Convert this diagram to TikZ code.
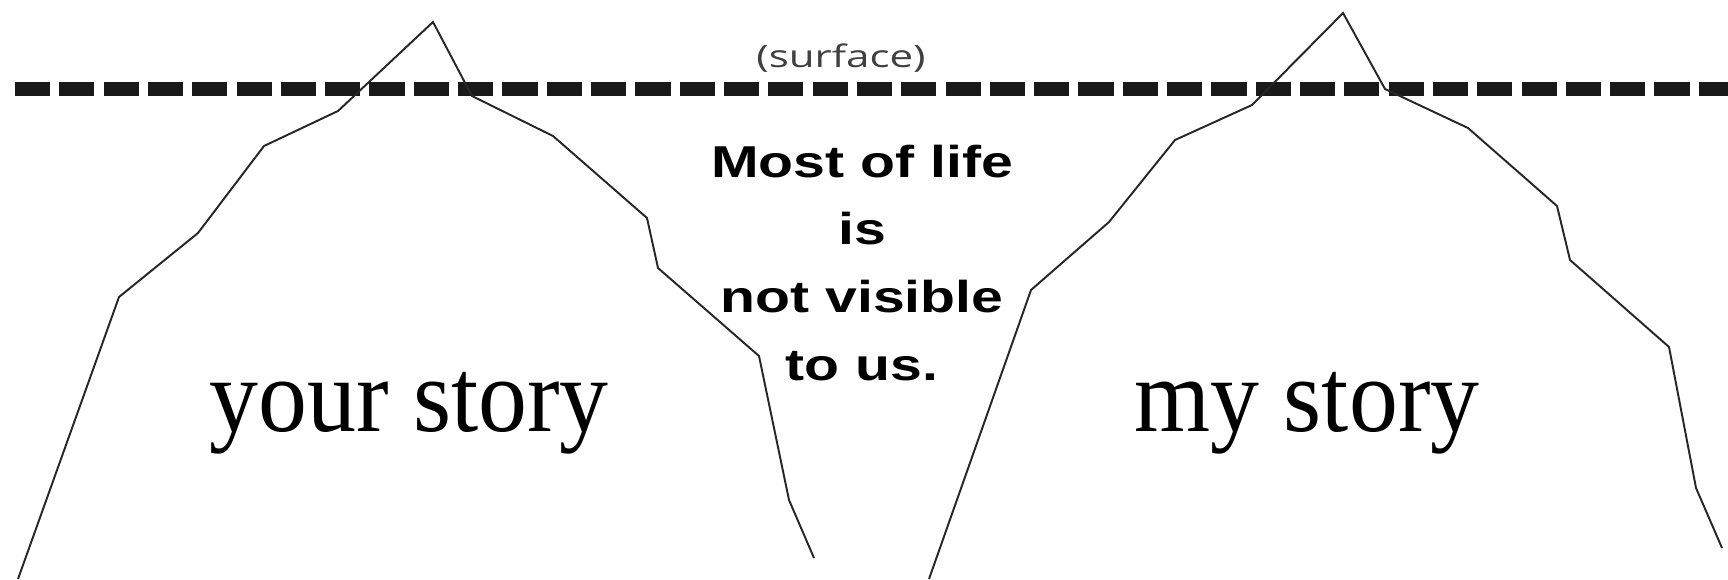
\documentclass[tikz,border=0pt]{standalone}
\usepackage{fontspec}
\setmainfont{Liberation Serif}
\newfontfamily\lifefont{Liberation Sans}
\newfontfamily\surfacefont{Open Sans}
\begin{document}
\begin{tikzpicture}[x=0.01cm, y=-0.01cm,
    berg/.style={draw=black!85, line width=0.55pt, line join=miter},
    story/.style={anchor=base, inner sep=0pt, xscale=0.93, transform shape, font=\fontsize{29.9}{34}\selectfont},
    lifeline/.style={anchor=base, inner sep=0pt, xscale=1.28, transform shape, font=\lifefont\bfseries\fontsize{12.7}{15}\selectfont}]
  \useasboundingbox (0,0) rectangle (1728,579);
  % waterline
  \draw[line width=3.7pt, black!90, dash pattern=on 10pt off 2.6pt] (15,89) -- (1728,89);
  \node[inner sep=0pt, xscale=1.36, transform shape, text=black!75, font=\surfacefont\fontsize{8.8}{10}\selectfont] (surface) at (841,58) {(surface)};
  % the two icebergs
  \draw[berg] (18,579) -- (119,297) -- (198,233) -- (264,146) -- (338,111) -- (433,22) -- (472,96)
    -- (553,136) -- (647,218) -- (658,268) -- (759,356) -- (789,500) -- (814,558);
  \draw[berg] (929,579) -- (1031,290) -- (1109,222) -- (1175,140) -- (1252,105) -- (1343,13) -- (1385,89)
    -- (1468,128) -- (1557,206) -- (1570,260) -- (1669,347) -- (1696,488) -- (1722,548);
  \node[story] (yours) at (409,431) {your story};
  \node[story] (mine) at (1307,431) {my story};
  \foreach \txt [count=\i from 0] in {Most of life, is, not visible, to us.}
    \node[lifeline] (life\i) at (862,177+67.7*\i) {\txt};
\end{tikzpicture}
\end{document}
